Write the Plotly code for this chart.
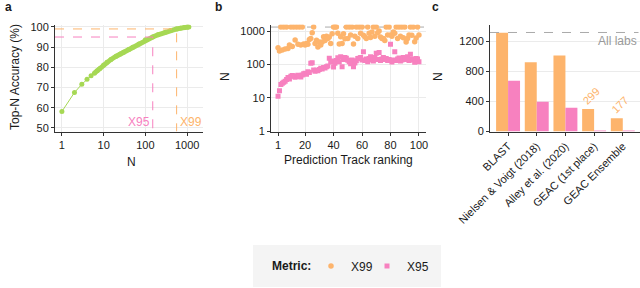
import math
import plotly.graph_objects as go

# ---------------- data ----------------
# Panel a: Top-N accuracy curve
topn_N = [1, 2, 3, 4, 5, 6, 7, 8, 10, 12, 15, 20, 25, 30, 40, 50, 70, 100, 150, 200, 300, 400, 560, 700, 850, 1000, 1100]
topn_acc = [58.1, 67.5, 71.6, 74.1, 75.8, 77.1, 78.3, 79.3, 81.2, 82.5, 83.9, 85.5, 86.6, 87.4, 88.8, 89.9, 91.6, 93.6, 95.0, 96.1, 97.4, 98.2, 99.0, 99.4, 99.7, 99.9, 100.0]
x95_value = 150
x99_value = 560

# Panel b: per-team X99 / X95
ranking = list(range(1, 101))
team_x99 = [
    316, 250, 1314, 270, 1314, 290, 1314, 300, 380, 1314,
    340, 1314, 535, 1314, 400, 1314, 380, 1314, 407, 380,
    420, 400, 560, 600, 890, 1314, 420, 530, 330, 470,
    380, 470, 675, 520, 690, 600, 660, 420, 830, 1314,
    1314, 1314, 850, 410, 675, 420, 830, 590, 1314, 600,
    1314, 760, 1314, 410, 690, 1314, 600, 1314, 850, 1314,
    740, 675, 600, 1314, 850, 640, 930, 1314, 700, 1314,
    890, 1000, 660, 600, 600, 520, 1314, 760, 1314, 760,
    690, 930, 850, 1314, 600, 1314, 700, 1314, 630, 1314,
    470, 600, 760, 1314, 740, 1314, 475, 620, 1314, 760,
]
team_x95 = [
    11, 16, 25, 27, 29, 31, 35, 40, 36, 44,
    46, 45, 41, 44, 47, 43, 42, 48, 52, 54,
    50, 60, 57, 107, 112, 68, 62, 66, 64, 70,
    76, 72, 81, 78, 85, 89, 151, 118, 125, 83,
    107, 130, 158, 120, 170, 85, 140, 160, 151, 132,
    120, 105, 135, 85, 110, 128, 150, 151, 160, 135,
    240, 130, 145, 120, 150, 170, 135, 125, 160, 215,
    140, 225, 130, 145, 160, 140, 150, 130, 140, 400,
    118, 135, 240, 130, 145, 155, 125, 135, 160, 150,
    140, 170, 130, 200, 145, 135, 115, 150, 145, 120,
]
all_labs = 1314

# Panel c: methods
methods = ["BLAST", "Nielsen & Voigt (2018)", "Alley et al. (2020)", "GEAC (1st place)", "GEAC Ensemble"]
method_x99 = [1310, 920, 1010, 299, 177]
method_x95 = [675, 395, 315, 11, 10]

# ---------------- style ----------------
W, H = 640, 288
ORANGE = "#FDB46C"
PINK = "#F781BF"
GREEN = "#A6D854"
GRID = "#EBEBEB"
AXIS = "#333333"
FONT = "Liberation Sans, Arial, Helvetica, sans-serif"
TXT = "#1A1A1A"

def px(x):
    return x / W

def py(y):
    return 1 - y / H

YDOM = [py(131.5), py(24.5)]

fig = go.Figure()

# Panel a
fig.add_trace(go.Scatter(x=topn_N[5:], y=topn_acc[5:], mode="lines", line=dict(color=GREEN, width=5),
                         xaxis="x", yaxis="y", showlegend=False, hoverinfo="skip"))
fig.add_trace(go.Scatter(x=topn_N, y=topn_acc, mode="lines+markers", line=dict(color=GREEN, width=1),
                         marker=dict(color=GREEN, size=5), xaxis="x", yaxis="y", showlegend=False))
a_left = 10 ** -0.165
a_bottom = 48.2
fig.add_trace(go.Scatter(x=[a_left, x95_value, x95_value], y=[95, 95, a_bottom], mode="lines",
                         line=dict(color=PINK, width=1, dash="dash"), xaxis="x", yaxis="y",
                         showlegend=False, hoverinfo="skip"))
fig.add_trace(go.Scatter(x=[a_left, x99_value, x99_value], y=[99, 99, a_bottom], mode="lines",
                         line=dict(color=ORANGE, width=1, dash="dash"), xaxis="x", yaxis="y",
                         showlegend=False, hoverinfo="skip"))

# Panel b
fig.add_trace(go.Scatter(x=[-3.95, 104.95], y=[all_labs, all_labs], mode="lines",
                         line=dict(color="#AAAAAA", width=1, dash="dash"), xaxis="x2", yaxis="y2",
                         showlegend=False, hoverinfo="skip"))
fig.add_trace(go.Scatter(x=ranking, y=team_x99, mode="markers", name="X99", legend="legend",
                         marker=dict(color=ORANGE, size=5.5, symbol="circle"), xaxis="x2", yaxis="y2"))
fig.add_trace(go.Scatter(x=ranking, y=team_x95, mode="markers", name="X95", legend="legend2",
                         marker=dict(color=PINK, size=5, symbol="square"), xaxis="x2", yaxis="y2"))

# Panel c
fig.add_trace(go.Bar(x=methods, y=method_x99, marker=dict(color=ORANGE, line=dict(width=0)),
                     xaxis="x3", yaxis="y3", showlegend=False, name="X99"))
fig.add_trace(go.Bar(x=methods, y=method_x95, marker=dict(color=PINK, line=dict(width=0)),
                     xaxis="x3", yaxis="y3", showlegend=False, name="X95"))

common = dict(showgrid=True, gridcolor=GRID, gridwidth=1, showline=True, linecolor=AXIS, linewidth=1,
              ticks="outside", ticklen=3, tickcolor=AXIS, tickwidth=1, zeroline=False,
              tickfont=dict(size=11, color=TXT, family=FONT), automargin=False)

leg = dict(orientation="h", xanchor="left", y=py(266), yanchor="middle",
           bgcolor="rgba(0,0,0,0)", font=dict(size=12, color=TXT, family=FONT),
           itemwidth=30, tracegroupgap=0)

fig.update_layout(
    width=W, height=H, margin=dict(l=0, r=0, t=0, b=0),
    paper_bgcolor="white", plot_bgcolor="white",
    font=dict(family=FONT, color=TXT, size=12),
    barmode="group", bargap=0.165, bargroupgap=0,
    xaxis=dict(domain=[px(55), px(203)], type="log", range=[-0.165, 3.38],
               tickvals=[1, 10, 100, 1000], ticktext=["1", "10", "100", "1000"], anchor="y", **common),
    yaxis=dict(domain=YDOM, range=[48.2, 101.2], tickvals=[50, 60, 70, 80, 90, 100], anchor="x", **common),
    xaxis2=dict(domain=[px(271), px(426)], range=[-3.95, 104.95], tickvals=[1, 20, 40, 60, 80, 100],
                anchor="y2", **common),
    yaxis2=dict(domain=YDOM, type="log", range=[-0.015, 3.195], tickvals=[1, 10, 100, 1000],
                ticktext=["1", "10", "100", "1000"], anchor="x2", **common),
    xaxis3=dict(domain=[px(490), px(640)], range=[-0.63, 4.6], tickangle=-45, anchor="y3",
                **{**common, "showgrid": False}),
    yaxis3=dict(domain=YDOM, range=[0, 1420], tickvals=[0, 400, 800, 1200], anchor="x3", **common),
    legend=dict(x=px(311), **leg),
    legend2=dict(x=px(367), **leg),
)

# legend background box
fig.add_shape(type="rect", xref="paper", yref="paper", x0=px(253), x1=px(441), y0=py(287), y1=py(245),
              fillcolor="#F4F4F4", line=dict(width=0), layer="below")
# all labs line in c
fig.add_shape(type="line", xref="x3 domain", yref="y3", x0=0, x1=0.99, y0=all_labs, y1=all_labs,
              line=dict(color="#AAAAAA", width=1, dash="dash"))

ann = []
def text(x, y, t, **kw):
    d = dict(x=x, y=y, text=t, showarrow=False, xref="paper", yref="paper",
             xanchor="center", yanchor="middle",
             font=dict(size=12, color=TXT, family=FONT))
    d.update(kw)
    ann.append(d)

text(px(3), py(7), "<b>a</b>", xanchor="left")
text(px(213), py(7), "<b>b</b>", xanchor="left")
text(px(430), py(7), "<b>c</b>", xanchor="left")
text(px(15), py(77), "Top-N Accuracy (%)", textangle=-90)
text(px(131), py(162), "N")
text(px(348), py(160), "Prediction Track ranking")
text(px(225), py(77), "N", textangle=-90)
text(px(438), py(77), "N", textangle=-90)
text(px(270), py(266), "<b>Metric:</b>", xanchor="left")

ann.append(dict(x=math.log10(x95_value), y=53, xref="x", yref="y", text="X95", showarrow=False,
                xanchor="right", yanchor="middle", xshift=-1, font=dict(size=12, color=PINK, family=FONT)))
ann.append(dict(x=math.log10(x99_value), y=53, xref="x", yref="y", text="X99", showarrow=False,
                xanchor="left", yanchor="middle", xshift=1, font=dict(size=12, color=ORANGE, family=FONT)))
ann.append(dict(x=0.995, y=all_labs, xref="x3 domain", yref="y3", text="All labs", showarrow=False,
                xanchor="right", yanchor="middle", yshift=-9, font=dict(size=12, color="#999999", family=FONT)))
for i in (3, 4):
    ann.append(dict(x=methods[i], y=method_x99[i], xref="x3", yref="y3", text=str(method_x99[i]),
                    showarrow=False, textangle=-45, xshift=-3, yshift=13,
                    xanchor="center", yanchor="middle",
                    font=dict(size=11, color=ORANGE, family=FONT)))
fig.update_layout(annotations=ann)

fig.write_html("out.html", config={"displayModeBar": False},
               post_script="document.body.style.margin='0';document.body.style.overflow='hidden';")
